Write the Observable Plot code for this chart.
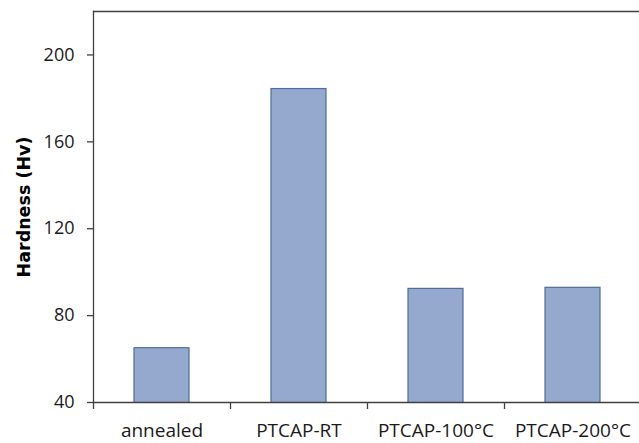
<!DOCTYPE html>
<html>
<head>
<meta charset="utf-8">
<script src="https://cdn.jsdelivr.net/npm/d3@7"></script>
<script src="https://cdn.jsdelivr.net/npm/@observablehq/plot@0.6"></script>
<style>
  html, body { margin: 0; padding: 0; background: #fff; overflow: hidden; }
  svg { display: block; }
</style>
</head>
<body>
<div id="chart"></div>
<script>
const categories = ["annealed", "PTCAP-RT", "PTCAP-100°C", "PTCAP-200°C"];
const hardness = [65, 184.3, 92.3, 92.8];
const yTicks = [40, 80, 120, 160, 200];
const yLabel = "Hardness (Hv)";

const data = categories.map((c, i) => ({cat: c, value: hardness[i]}));
const step = (641 - 93) / categories.length;
const axisColor = "#404040";

const chart = Plot.plot({
  width: 639,
  height: 443,
  marginLeft: 93,
  marginRight: 0,
  marginTop: 11,
  marginBottom: 41,
  style: {fontFamily: "'Open Sans', sans-serif", fontSize: "18px", color: "#1a1a1a", background: "#fff"},
  x: {domain: categories, range: [93, 641], paddingInner: 0.6, paddingOuter: 0.3, label: null},
  y: {domain: [40, 220], label: null},
  marks: [
    Plot.barY(data, {x: "cat", y: "value", fill: "#95a9cf", stroke: "#4d6d9b", strokeWidth: 1.2, clip: true}),
    Plot.frame({anchor: "top", stroke: axisColor, strokeWidth: 1.3}),
    Plot.frame({anchor: "left", stroke: axisColor, strokeWidth: 1.3}),
    Plot.ruleY([40], {stroke: axisColor, strokeWidth: 1.3}),
    Plot.axisY({ticks: yTicks, tickSize: 6, tickPadding: 13, stroke: axisColor, strokeWidth: 1.3, label: null, fontSize: 18}),
    Plot.axisX({tickSize: 0, tickPadding: 21, label: null, fontSize: 19}),
    Plot.axisX({tickSize: 7, tickFormat: () => "", dx: -step / 2, stroke: axisColor, strokeWidth: 1.3, label: null}),
    Plot.text([yLabel], {frameAnchor: "left", textAnchor: "middle", dx: -69, rotate: -90, fontWeight: "bold", fontSize: 17.5, fontFamily: "'DejaVu Sans', sans-serif", fill: "#000"})
  ]
});
document.getElementById("chart").appendChild(chart);
</script>
</body>
</html>
